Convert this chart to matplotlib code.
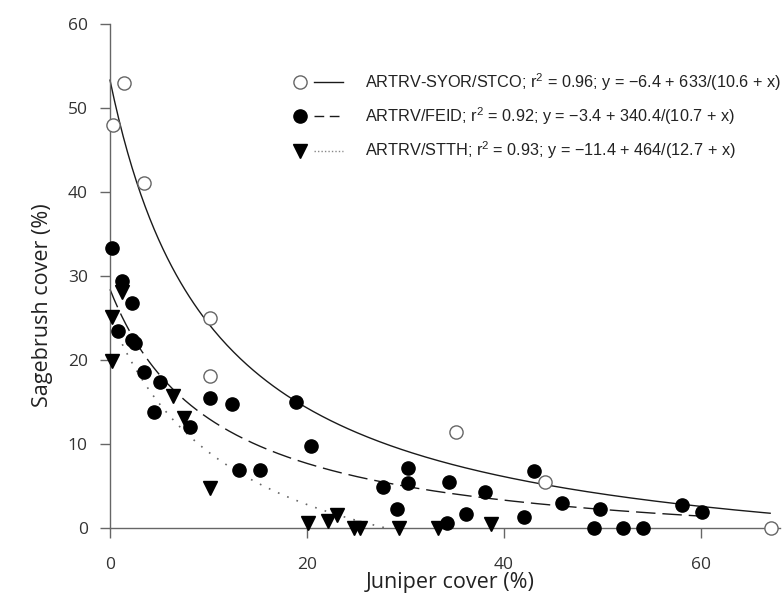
import numpy as np
import matplotlib.pyplot as plt
from matplotlib.lines import Line2D
from matplotlib.legend_handler import HandlerTuple

# open circles: ARTRV-SYOR/STCO
syor_x = [0.3, 1.4, 3.5, 10.1, 10.1, 35.1, 44.1, 67.1]
syor_y = [48.0, 53.0, 41.1, 25.0, 18.1, 11.4, 5.5, 0.0]

# filled circles: ARTRV/FEID
feid_x = [0.2, 1.2, 2.2, 0.8, 2.2, 2.5, 3.5, 5.1, 4.5, 8.1, 10.1, 12.4, 13.1, 15.2,
          18.9, 20.4, 27.7, 29.1, 30.2, 30.2, 34.4, 34.2, 36.1, 38.1, 42.0, 43.0,
          45.9, 49.7, 49.1, 52.1, 54.1, 58.1, 60.1]
feid_y = [33.3, 29.4, 26.8, 23.5, 22.4, 22.0, 18.6, 17.4, 13.8, 12.0, 15.5, 14.8, 6.9, 6.9,
          15.0, 9.8, 4.9, 2.3, 7.2, 5.3, 5.5, 0.6, 1.7, 4.3, 1.3, 6.8,
          3.0, 2.3, 0.0, 0.0, 0.0, 2.7, 1.9]

# triangles: ARTRV/STTH
stth_x = [1.2, 0.2, 0.2, 6.4, 7.5, 10.1, 20.1, 22.1, 23.0, 24.8, 25.4, 29.3, 33.3, 38.7]
stth_y = [28.1, 25.1, 19.9, 15.7, 13.1, 4.8, 0.6, 0.8, 1.5, 0.0, 0.0, 0.0, 0.0, 0.5]

# fitted curves y = a + b/(c + x), drawn over [x0, x1]
fits = {
    'syor': (-6.4, 633.0, 10.6, 0.0, 67.0),
    'feid': (-3.4, 340.4, 10.7, 0.0, 60.0),
    'stth': (-11.4, 464.0, 12.7, 0.0, 28.0),
}

labels = [
    r'ARTRV-SYOR/STCO; r$^2$ = 0.96; y = $-$6.4 + 633/(10.6 + x)',
    r'ARTRV/FEID; r$^2$ = 0.92; y = $-$3.4 + 340.4/(10.7 + x)',
    r'ARTRV/STTH; r$^2$ = 0.93; y = $-$11.4 + 464/(12.7 + x)',
]

ink = '#1a1a1a'
axc = '#666666'

plt.rcParams['font.family'] = ['Open Sans', 'DejaVu Sans']
plt.rcParams['mathtext.fontset'] = 'custom'
plt.rcParams['mathtext.rm'] = 'Liberation Sans'

fig = plt.figure(figsize=(7.84, 5.98), dpi=100)
ax = fig.add_axes([110/784, 1 - 528/598, 670/784, 504/598])

def curve(key):
    a, b, c, x0, x1 = fits[key]
    xs = np.linspace(x0, x1, 300)
    return xs, a + b/(c + xs)

xs, ys = curve('syor')
ax.plot(xs, ys, color=ink, lw=1.0, clip_on=False)
xs, ys = curve('feid')
ax.plot(xs, ys, color=ink, lw=1.0, dashes=(14, 5), clip_on=False)
xs, ys = curve('stth')
ax.plot(xs, ys, color='#666666', lw=1.2, dashes=(1, 5), clip_on=False)

ms = 9.5
ax.plot(feid_x, feid_y, 'o', color='black', ms=ms, ls='none', clip_on=False, zorder=3)
ax.plot(stth_x, stth_y, 'v', color='black', ms=ms, ls='none', clip_on=False, zorder=3)
ax.plot(syor_x, syor_y, 'o', mfc='white', mec='#666666', mew=1.0, ms=ms, ls='none',
        clip_on=False, zorder=4)

ax.set_xlim(0, 68)
ax.set_ylim(0, 60)
ax.set_xticks([0, 20, 40, 60])
ax.set_yticks([0, 10, 20, 30, 40, 50, 60])

for s in ['top', 'right']:
    ax.spines[s].set_visible(False)
for s in ['left', 'bottom']:
    ax.spines[s].set_color(axc)
    ax.spines[s].set_linewidth(1.0)
ax.tick_params(axis='both', direction='out', length=7, width=1.0, color=axc,
               labelsize=12.5, labelcolor='#333333')
ax.tick_params(axis='x', pad=14)
ax.tick_params(axis='y', pad=9)

ax.set_xlabel('Juniper cover (%)', fontsize=15.5, color='#222222')
ax.set_ylabel('Sagebrush cover (%)', fontsize=15.5, color='#222222')
ax.xaxis.set_label_coords(0.507, -0.109)
ax.xaxis.label.set_va('center')
ax.yaxis.set_label_coords(-0.1, 0.442)
ax.yaxis.label.set_va('center')

# legend: marker on the left, line style on the right
h1 = (Line2D([], [], marker='o', ls='none', mfc='white', mec='#666666', ms=ms),
      Line2D([], [], color=ink, lw=1.0))
h2 = (Line2D([], [], marker='o', ls='none', color='black', ms=ms),
      Line2D([], [], color=ink, lw=1.0, dashes=(7, 4)))
h3 = (Line2D([], [], marker='v', ls='none', color='black', ms=ms),
      Line2D([], [], color='#888888', lw=1.0, dashes=(1, 1.5)))
leg = ax.legend([h1, h2, h3], labels,
                handler_map={tuple: HandlerTuple(ndivide=None, pad=0.0)},
                loc='upper left', bbox_to_anchor=((285 - 110)/670, (528 - 71)/504),
                frameon=False, borderpad=0, borderaxespad=0,
                handlelength=3.6, handletextpad=1.3, labelspacing=0.78,
                prop={'family': 'Liberation Sans', 'size': 11.7})
for t in leg.get_texts():
    t.set_color('#222222')

fig.savefig('out.png', dpi=100)
